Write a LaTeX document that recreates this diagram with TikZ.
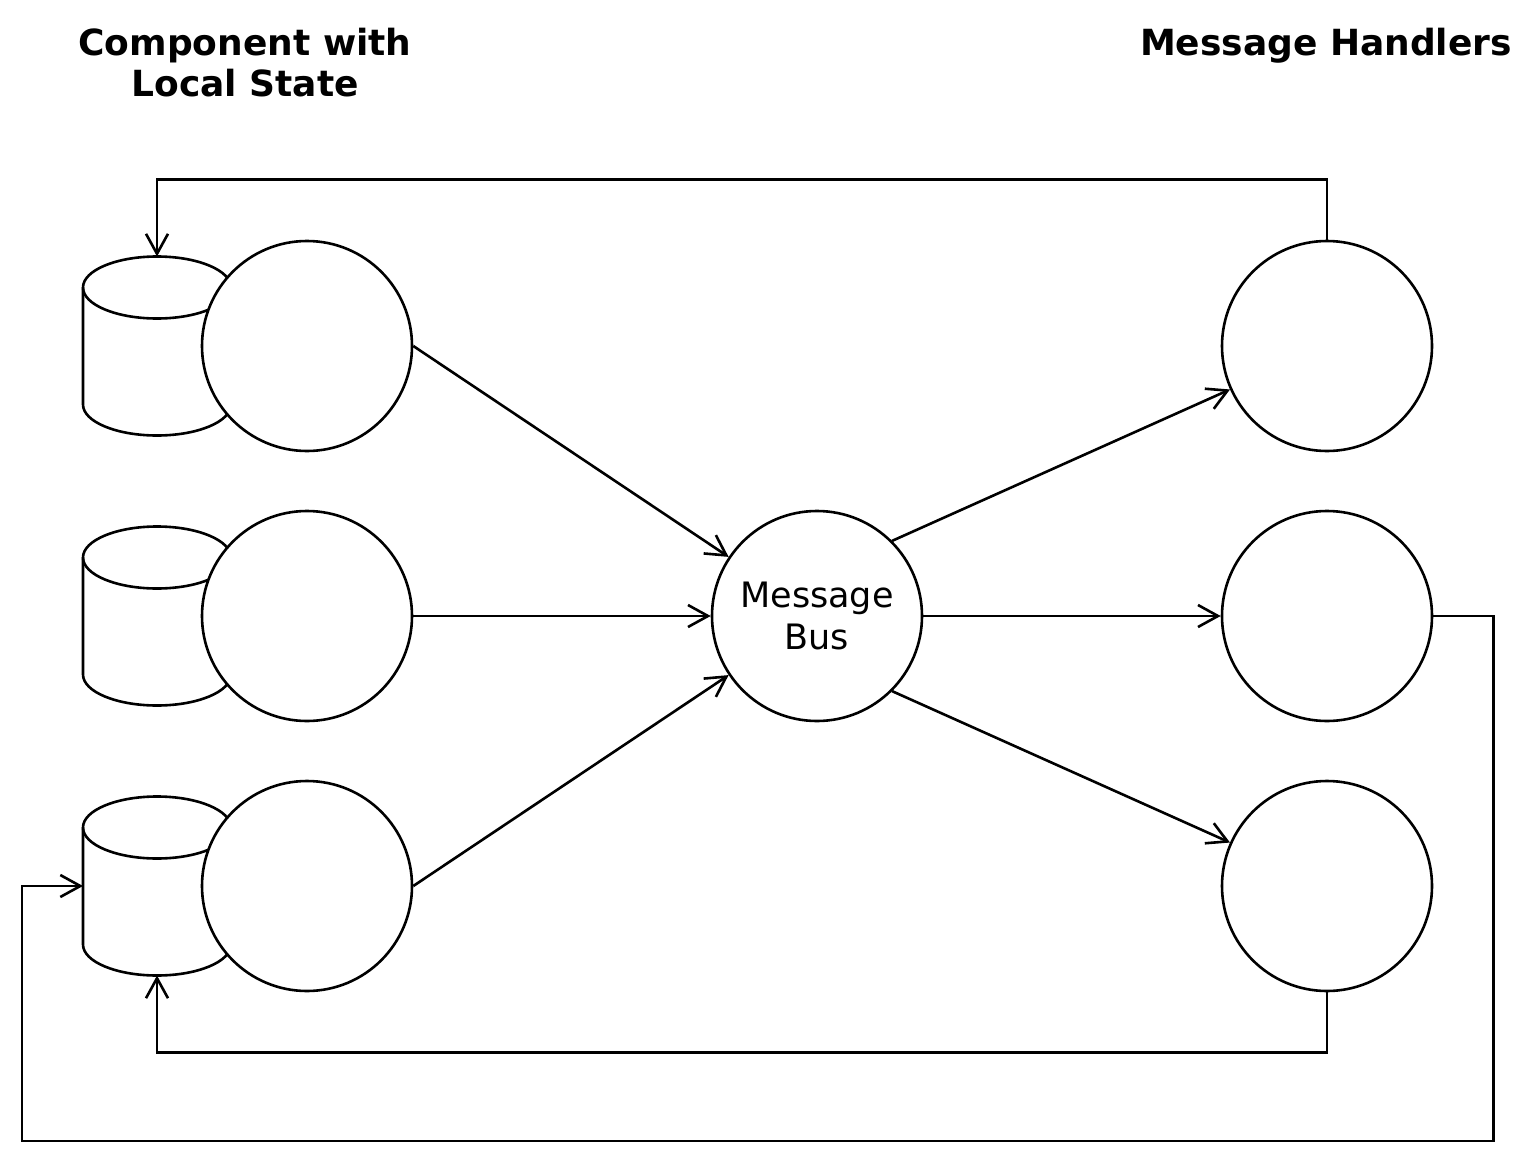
\documentclass[tikz,border=0pt]{standalone}
\usepackage{fontspec}
\setmainfont{DejaVu Sans}
\usetikzlibrary{arrows.meta}

\begin{document}
\begin{tikzpicture}[x=1pt,y=-1pt,
	line width=2.6pt,
	>={Straight Barb[length=20pt,width=22pt]},
	proc/.style={
		circle, draw, fill=white, minimum size=210pt, inner sep=0pt,
		font=\fontsize{35}{42}\selectfont, align=center
	},
	store/.style={
		rectangle, minimum width=148pt, minimum height=179pt,
		inner sep=0pt, outer sep=0pt
	},
	endcap/.style={x radius=74pt, y radius=31pt},
	heading/.style={font=\fontsize{36}{41}\selectfont\bfseries, align=center}
]
\useasboundingbox (0,0) rectangle (1524,1167);

\node[heading] (tleft) at (245,63) {Component with\\Local State};
\node[heading] (tright) at (1326,46) {Message Handlers};

\foreach \i/\y in {1/346,2/616,3/886} {
	\node[store] (C\i) at (157,\y) {};
	% cylinder of the local state
	\draw[fill=white] ([yshift=-31pt]C\i.north west)
		-- ([yshift=31pt]C\i.south west)
		arc[start angle=180, end angle=360, endcap]
		-- ([yshift=-31pt]C\i.north east)
		arc[start angle=0, end angle=180, endcap] -- cycle;
	\draw ([yshift=-31pt]C\i.north west) arc[start angle=180, end angle=360, endcap];
	\node[proc] (L\i) at (307,\y) {};
	\node[proc] (R\i) at (1327,\y) {};
}
\node[proc] (bus) at (817,616) {Message\\Bus};

\draw[->] (L1.east)--(bus);
\draw[->] (L2)--(bus);
\draw[->] (L3.east)--(bus);
\draw[->] (bus.north east)--(R1);
\draw[->] (bus)--(R2);
\draw[->] (bus.south east)--(R3);

% feedback to the local state
\draw[->] (R1.north)--++(0,-60) -| (C1.north);
\draw[->] (R3.south)--++(0,60) -| (C3.south);
\draw[->] (R2.east)--++(60,0) |- (22,1141) |- (C3.west);
\end{tikzpicture}
\end{document}
